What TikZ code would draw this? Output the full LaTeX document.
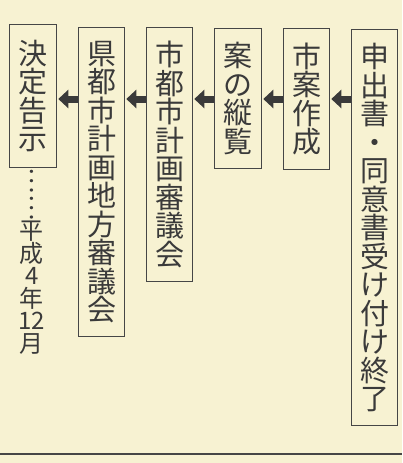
\documentclass[tikz,border=0pt]{standalone}
\usepackage{fontspec}
\setmainfont{Noto Sans CJK JP}
\usetikzlibrary{arrows.meta}
\definecolor{bg}{RGB}{247,242,210}
\definecolor{ink}{RGB}{58,58,58}
\definecolor{rule}{RGB}{70,70,70}
\tikzset{
  stagebox/.style={draw=rule, line width=1.3pt, anchor=north west, inner sep=0pt,
    align=center, text=ink, font=\fontsize{29pt}{28.5pt}\selectfont},
  flowarrow/.style={draw=ink, line width=7pt, -{Triangle[width=18pt,length=10pt]}, shorten >=1pt},
  datetext/.style={text=ink, align=center, inner sep=0pt, font=\fontsize{24pt}{22.5pt}\selectfont},
}
\begin{document}
\begin{tikzpicture}[x=1pt,y=-1pt]
\fill[bg] (0,0) rectangle (402,463);
\useasboundingbox (0,0) rectangle (402,463);
\node[stagebox, minimum width=47pt, minimum height=143pt] (b1) at (9,24) {決\\定\\告\\示};
\node[stagebox, minimum width=46pt, minimum height=309pt] (b2) at (78,27) {県\\都\\市\\計\\画\\地\\方\\審\\議\\会};
\node[stagebox, minimum width=46pt, minimum height=254pt] (b3) at (146,27) {市\\都\\市\\計\\画\\審\\議\\会};
\node[stagebox, minimum width=47pt, minimum height=140pt] (b4) at (214,28) {案\\の\\縦\\覧};
\node[stagebox, minimum width=46pt, minimum height=141pt] (b5) at (283,28) {市\\案\\作\\成};
\node[stagebox, minimum width=46pt, minimum height=396pt] (b6) at (351,29) {申\\出\\書\\・\\同\\意\\書\\受\\け\\付\\け\\終\\了};
\coordinate (ay) at (0,99);
\draw[flowarrow] (b6.west |- ay) -- (b5.east |- ay);
\draw[flowarrow] (b5.west |- ay) -- (b4.east |- ay);
\draw[flowarrow] (b4.west |- ay) -- (b3.east |- ay);
\draw[flowarrow] (b3.west |- ay) -- (b2.east |- ay);
\draw[flowarrow] (b2.west |- ay) -- (b1.east |- ay);
\node[text=ink, inner sep=0pt, rotate=-90, font=\fontsize{25pt}{25pt}\selectfont] (dots) at (32,194) {……};
\node[datetext, anchor=north] (date) at (32,221) {平\\成\\4\\年\\12\\月};
\draw[rule, line width=2pt] (0,454) -- (402,454);
\end{tikzpicture}
\end{document}
